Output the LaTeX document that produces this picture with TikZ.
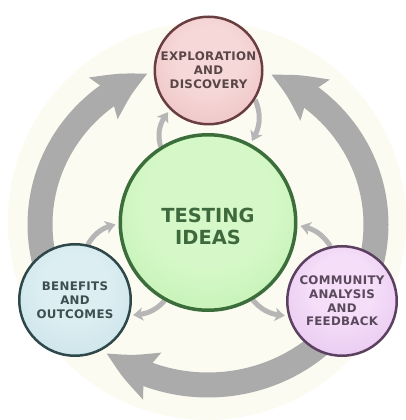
\documentclass[tikz,border=0pt]{standalone}
\usepackage{fontspec}
\setmainfont{DejaVu Sans}
\newfontfamily\smalllabelfont[LetterSpace=2.5]{DejaVu Sans}
\usetikzlibrary{arrows.meta,calc,bending}
\definecolor{bigarrowc}{RGB}{171,171,171}
\definecolor{smallarrowc}{RGB}{182,182,182}
\definecolor{creamin}{RGB}{252,251,241}
\definecolor{creamout}{RGB}{248,246,222}
\definecolor{greenin}{RGB}{214,248,200}
\definecolor{greenout}{RGB}{166,232,150}
\definecolor{greenborder}{RGB}{60,110,60}
\definecolor{greentext}{RGB}{62,105,62}
\definecolor{pinkin}{RGB}{246,216,216}
\definecolor{pinkout}{RGB}{228,170,172}
\definecolor{pinkborder}{RGB}{105,62,64}
\definecolor{pinktext}{RGB}{90,70,70}
\definecolor{bluein}{RGB}{220,238,242}
\definecolor{blueout}{RGB}{182,214,222}
\definecolor{blueborder}{RGB}{46,72,74}
\definecolor{bluetext}{RGB}{62,78,80}
\definecolor{purplein}{RGB}{244,222,248}
\definecolor{purpleout}{RGB}{218,170,232}
\definecolor{purpleborder}{RGB}{92,64,96}
\definecolor{purpletext}{RGB}{90,72,92}
\pgfdeclareradialshading{creamshade}{\pgfpoint{0bp}{0bp}}{color(0bp)=(creamin); color(36bp)=(creamin); color(48bp)=(creamout); color(50bp)=(creamout)}
\pgfdeclareradialshading{greenshade}{\pgfpoint{0bp}{8bp}}{color(0bp)=(greenin); color(18bp)=(greenin); color(56bp)=(greenout)}
\pgfdeclareradialshading{pinkshade}{\pgfpoint{0bp}{8bp}}{color(0bp)=(pinkin); color(15bp)=(pinkin); color(56bp)=(pinkout)}
\pgfdeclareradialshading{blueshade}{\pgfpoint{0bp}{8bp}}{color(0bp)=(bluein); color(15bp)=(bluein); color(56bp)=(blueout)}
\pgfdeclareradialshading{purpleshade}{\pgfpoint{0bp}{8bp}}{color(0bp)=(purplein); color(15bp)=(purplein); color(56bp)=(purpleout)}
\pgfdeclarelayer{bglayer}
\pgfdeclarelayer{arrowlayer}
\pgfsetlayers{bglayer,arrowlayer,main}
\begin{document}
\begin{tikzpicture}[x=1pt,y=1pt,
  ball/.style={circle, inner sep=0pt, align=center, font=\smalllabelfont\bfseries\fontsize{11.8}{13.8}\selectfont},
  bigarrow/.style={draw=bigarrowc, line width=25pt, -{Stealth[length=50pt,width=48pt,inset=8pt,bend]}},
  smallarrow/.style={draw=smallarrowc, line width=5pt, -{Stealth[length=10pt,width=13pt,inset=2.5pt,bend]}, shorten >=3pt}]
\useasboundingbox (0,0) rectangle (405,420);
\begin{pgfonlayer}{bglayer}
  \fill[white] (0,0) rectangle (405,420);
  \shade[shading=creamshade] (207,199) circle[radius=199];
\end{pgfonlayer}
\node[ball, shading=greenshade, draw=greenborder, line width=3.5pt, minimum size=175.5pt] (test) at (208,197.5) {};
\node[ball, text=greentext, font=\bfseries\fontsize{19.4}{22}\selectfont] (testlabel) at ($(test.center)+(0,-4)$) {TESTING\\IDEAS};
\node[ball, shading=pinkshade, draw=pinkborder, line width=2.5pt, minimum size=107.5pt, text=pinktext] (explore) at (208.5,349.5) {EXPLORATION\\AND\\DISCOVERY};
\node[ball, shading=blueshade, draw=blueborder, line width=2.5pt, minimum size=111.5pt, text=bluetext] (benefit) at (75,120) {BENEFITS\\AND\\OUTCOMES};
\node[ball, shading=purpleshade, draw=purpleborder, line width=2.5pt, minimum size=109.5pt, text=purpletext] (community) at (342,119) {COMMUNITY\\ANALYSIS\\AND\\FEEDBACK};
\coordinate (ringc) at (208,195);
\begin{pgfonlayer}{arrowlayer}
  \draw[bigarrow] ($(ringc)+(210:168 and 160)$) arc[start angle=210,end angle=111,x radius=168,y radius=161];
  \draw[bigarrow] ($(ringc)+(-30:168 and 160)$) arc[start angle=-30,end angle=68,x radius=168,y radius=161];
  \draw[bigarrow] ($(ringc)+(-30:168 and 160)$) arc[start angle=-30,end angle=-127,x radius=168,y radius=160];
  \draw[smallarrow] (test.122) to[bend left=30] (explore.226);
  \draw[smallarrow] (explore.-32) to[bend left=30] (test.62);
  \draw[smallarrow] (benefit.77) to[bend left=25] (test.181);
  \draw[smallarrow] (test.241) to[bend left=25] (benefit.-15);
  \draw[smallarrow] (community.102) to[bend right=25] (test.-2);
  \draw[smallarrow] (test.-60) to[bend right=25] (community.195);
\end{pgfonlayer}
\end{tikzpicture}
\end{document}
